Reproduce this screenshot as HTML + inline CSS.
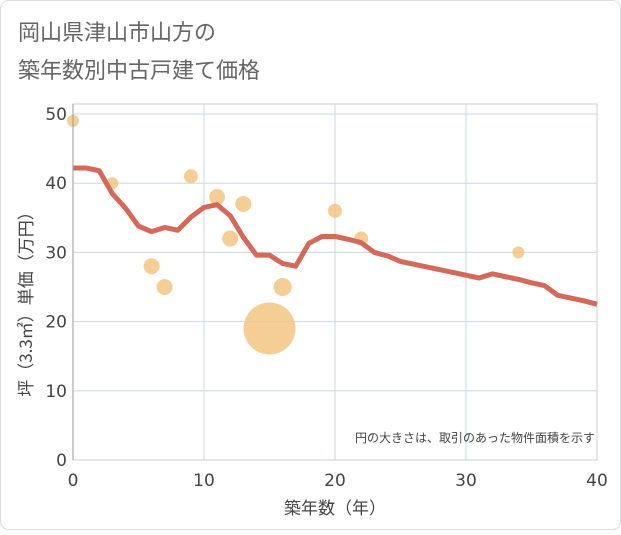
<!DOCTYPE html>
<html><head><meta charset="utf-8"><style>
body{margin:0;background:#fff}
svg text{font-family:"DejaVu Sans","Noto Sans CJK JP",sans-serif}
</style></head><body>
<svg width="621" height="530">
<rect x="0.5" y="0.5" width="620" height="529" rx="8" fill="#fff" stroke="#ddd"/>
<text x="18" y="40" font-size="22" fill="#666" style="font-family:'Noto Sans CJK JP',sans-serif">岡山県津山市山方の</text>
<text x="18" y="78" font-size="22" fill="#666" style="font-family:'Noto Sans CJK JP',sans-serif">築年数別中古戸建て価格</text>
<g id="grid"></g>
<g id="bubbles"></g>
<path id="line" fill="none" stroke="#d4695a" stroke-width="5" stroke-linejoin="round"/>
<g id="axes"></g>
<text x="595" y="442" font-size="12" fill="#444" text-anchor="end" style="font-family:'Noto Sans CJK JP',sans-serif">円の大きさは、取引のあった物件面積を示す</text>
<text x="335" y="514" font-size="17" fill="#444" text-anchor="middle" style="font-family:'Noto Sans CJK JP',sans-serif">築年数（年）</text>
<text transform="translate(32,300) rotate(-90)" font-size="17" fill="#444" text-anchor="middle" style="font-family:'Noto Sans CJK JP',sans-serif">坪（3.3㎡）単価（万円）</text>
</svg>
<script>
const xTicks=[0,10,20,30,40];
const yTicks=[0,10,20,30,40,50];
const lineYears=[0,1,2,3,4,5,6,7,8,9,10,11,12,13,14,15,16,17,18,19,20,21,22,23,24,25,26,27,28,29,30,31,32,33,34,35,36,37,38,39,40];
const lineValues=[42.2,42.2,41.8,38.5,36.4,33.8,33,33.6,33.2,35.1,36.5,36.9,35.3,32.2,29.6,29.6,28.4,28,31.3,32.3,32.3,31.9,31.4,30,29.5,28.7,28.3,27.9,27.5,27.1,26.7,26.3,26.9,26.5,26.1,25.6,25.2,23.8,23.4,23,22.5];
const bubbleYears=[0,3,6,7,9,11,12,13,15,16,20,22,34];
const bubbleValues=[49,40,28,25,41,38,32,37,19,25,36,32,30];
const bubbleSizes=[6,6,8,8,7,8,8,8,26,9,7,7,6];
const L=73,R=597,T=104,B=460;
const X=v=>L+(R-L)*v/40, Y=v=>B-(B-114)*v/50;
const NS="http://www.w3.org/2000/svg";
const grid=document.getElementById('grid'), axes=document.getElementById('axes');
function mk(tag,attrs,parent){const e=document.createElementNS(NS,tag);for(const k in attrs)e.setAttribute(k,attrs[k]);parent.appendChild(e);return e;}
xTicks.forEach(v=>{
 const l=mk('line',{x1:X(v),x2:X(v),y1:T,y2:B,stroke:'#c8d8e6'},grid);
 
 
 const t=mk('text',{x:X(v),y:B+26,'font-size':17,fill:'#444','text-anchor':'middle'},axes);t.textContent=v;
 
 
});
yTicks.forEach(v=>{
 const l=mk('line',{x1:L,x2:R,y1:Y(v),y2:Y(v),stroke:'#c8d8e6'},grid);
 
 
 const t=mk('text',{x:L-6,y:Y(v)+6,'font-size':17,fill:'#444','text-anchor':'end'},axes);t.textContent=v;
 
 
});
const fr=mk('rect',{x:L,y:T,width:R-L,height:B-T,fill:'none',stroke:'#ccc'},grid);


const ax=mk('line',{x1:L,x2:L,y1:T,y2:B,stroke:'#999'},axes);


const bg=document.getElementById('bubbles');
bubbleYears.forEach((yr,i)=>{
 const c=mk('circle',{cx:X(yr),cy:Y(bubbleValues[i]),r:bubbleSizes[i],fill:'#f2c27c','fill-opacity':0.8},bg);
 
 
});
document.getElementById('line').setAttribute('d',lineYears.map((yr,i)=>(i?'L':'M')+X(yr)+','+Y(lineValues[i])).join(''));
</script>
</body></html>
